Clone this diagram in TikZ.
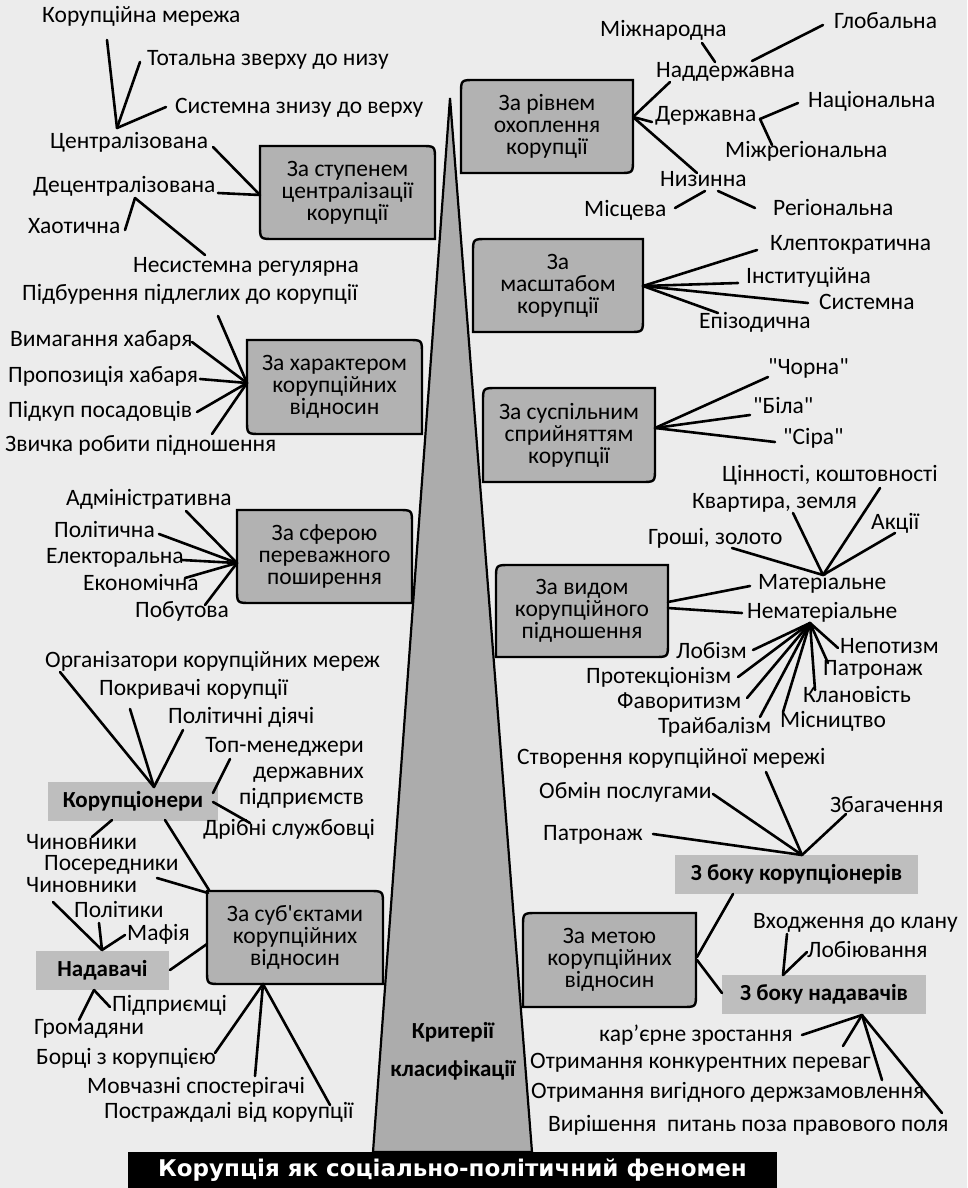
\documentclass[tikz,border=0pt]{standalone}
\usepackage{fontspec}
\setmainfont{Carlito}[Ligatures=TeXOff]
\newfontfamily\barfont{DejaVu Sans}
\definecolor{bg}{RGB}{236,236,236}
\definecolor{boxfill}{RGB}{178,178,178}
\definecolor{tagfill}{RGB}{190,190,190}
\definecolor{spikefill}{RGB}{172,172,172}
\newcommand{\lboxshape}[4]{\draw[boxline] (#1,#2) -- ({#3-14},#2) .. controls (#3,#2) .. (#3,{#2+14}) -- (#3,#4) -- ({#1+14},#4) .. controls (#1,#4) .. (#1,{#4-14}) -- cycle;}
\newcommand{\rboxshape}[4]{\draw[boxline] ({#1+14},#2) -- (#3,#2) -- (#3,{#4-14}) .. controls (#3,#4) .. ({#3-14},#4) -- (#1,#4) -- (#1,{#2+14}) .. controls (#1,#2) .. ({#1+14},#2) -- cycle;}
\begin{document}
\begin{tikzpicture}[x=1pt,y=-1pt,
  lbl/.style={inner sep=0pt, anchor=west, text height=15pt, text depth=4pt, font=\fontsize{23.5}{25}\selectfont},
  boxtxt/.style={inner sep=0pt, align=center, font=\fontsize{23.5}{22}\selectfont},
  boxline/.style={fill=boxfill, draw=black, line width=2.4pt},
  tag/.style={fill=tagfill, inner sep=0pt, font=\bfseries\fontsize{23}{25}\selectfont},
  cn/.style={line width=2.6pt, line cap=round}]
\useasboundingbox (0,0) rectangle (967,1188);
\fill[bg] (0,0) rectangle (967,1188);
% central spike
\draw[line width=2.2pt, fill=spikefill, line join=miter] (450,98) -- (532,1152) -- (373,1152) -- cycle;
\node[font=\bfseries\fontsize{23}{38}\selectfont, align=center, inner sep=0pt] (crit) at (453,1051) {Критерії\\класифікації};
% bottom bar
\node[fill=black, minimum width=649pt, minimum height=36pt, inner sep=0pt, text=white, font=\barfont\bfseries\fontsize{23}{25}\selectfont] (bar) at (452.5,1170) {Корупція як соціально-політичний феномен};

% boxes
\lboxshape{260}{146}{435}{239}
\node[boxtxt, minimum width=175pt, minimum height=93pt] (b1) at (347.5,192.5) {За ступенем\\централізації\\корупції};
\rboxshape{461}{80}{633}{173}
\node[boxtxt, minimum width=172pt, minimum height=93pt] (b2) at (547,126.5) {За рівнем\\охоплення\\корупції};
\rboxshape{473}{239}{643}{332}
\node[boxtxt, minimum width=170pt, minimum height=93pt] (b3) at (558,285.5) {За\\масштабом\\корупції};
\rboxshape{483}{388}{655}{482}
\node[boxtxt, minimum width=172pt, minimum height=94pt] (b4) at (569,435) {За суспільним\\сприйняттям\\корупції};
\rboxshape{496}{565}{668}{657}
\node[boxtxt, minimum width=172pt, minimum height=92pt] (b5) at (582,611) {За видом\\корупційного\\підношення};
\lboxshape{247}{340}{422}{434}
\node[boxtxt, minimum width=175pt, minimum height=94pt] (b6) at (334.5,387) {За характером\\корупційних\\відносин};
\lboxshape{237}{510}{412}{603}
\node[boxtxt, minimum width=175pt, minimum height=93pt] (b7) at (324.5,556.5) {За сферою\\переважного\\поширення};
\lboxshape{207}{891}{383}{984}
\node[boxtxt, minimum width=176pt, minimum height=93pt] (b8) at (295,937.5) {За суб'єктами\\корупційних\\відносин};
\rboxshape{523}{913}{696}{1007}
\node[boxtxt, minimum width=173pt, minimum height=94pt] (b9) at (609.5,960) {За метою\\корупційних\\відносин};

% gray tags
\node[tag, minimum width=170pt, minimum height=39pt] (g1) at (133,801.5) {Корупціонери};
\node[tag, minimum width=133pt, minimum height=39pt] (g2) at (102.5,970.5) {Надавачі};
\node[tag, minimum width=243pt, minimum height=39pt] (g3) at (796.5,874.5) {З боку корупціонерів};
\node[tag, minimum width=204pt, minimum height=39pt] (g4) at (824,994.5) {З боку надавачів};

% labels top-left
\node[lbl] (t1) at (42,17) {Корупційна мережа};
\node[lbl] (t2) at (147,60) {Тотальна зверху до низу};
\node[lbl] (t3) at (175,108) {Системна знизу до верху};
\node[lbl] (t4) at (50,143) {Централізована};
\node[lbl] (t5) at (33,187) {Децентралізована};
\node[lbl] (t6) at (28,228) {Хаотична};
\node[lbl] (t7) at (133,267) {Несистемна регулярна};
% labels top-right
\node[lbl] (r1) at (600,31) {Міжнародна};
\node[lbl] (r2) at (834,23) {Глобальна};
\node[lbl] (r3) at (656,72) {Наддержавна};
\node[lbl] (r4) at (808,102) {Національна};
\node[lbl] (r5) at (655,116) {Державна};
\node[lbl] (r6) at (725,152) {Міжрегіональна};
\node[lbl] (r7) at (660,181) {Низинна};
\node[lbl] (r8) at (584,211) {Місцева};
\node[lbl] (r9) at (773,210) {Регіональна};
\node[lbl] (r10) at (770,245) {Клептократична};
\node[lbl] (r11) at (746,278) {Інституційна};
\node[lbl] (r12) at (819,304) {Системна};
\node[lbl] (r13) at (699,323) {Епізодична};
\node[lbl] (r14) at (768,369) {"Чорна"};
\node[lbl] (r15) at (753,408) {"Біла"};
\node[lbl] (r16) at (783,439) {"Сіра"};
\node[lbl] (r17) at (722,476) {Цінності, коштовності};
\node[lbl] (r18) at (692,503) {Квартира, земля};
\node[lbl] (r19) at (871,524) {Акції};
\node[lbl] (r20) at (648,539) {Гроші, золото};
\node[lbl] (r21) at (758,584) {Матеріальне};
\node[lbl] (r22) at (747,613) {Нематеріальне};
\node[lbl] (r23) at (676,653) {Лобізм};
\node[lbl] (r24) at (586,678) {Протекціонізм};
\node[lbl] (r25) at (617,703) {Фаворитизм};
\node[lbl] (r26) at (658,728) {Трайбалізм};
\node[lbl] (r27) at (780,722) {Місництво};
\node[lbl] (r28) at (803,697) {Клановість};
\node[lbl] (r29) at (823,670) {Патронаж};
\node[lbl] (r30) at (840,648) {Непотизм};
% labels left middle
\node[lbl] (l1) at (22,295) {Підбурення підлеглих до корупції};
\node[lbl] (l2) at (10,341) {Вимагання хабаря};
\node[lbl] (l3) at (8,377) {Пропозиція хабаря};
\node[lbl] (l4) at (8,412) {Підкуп посадовців};
\node[lbl] (l5) at (5,446) {Звичка робити підношення};
\node[lbl] (l6) at (66,500) {Адміністративна};
\node[lbl] (l7) at (54,532) {Політична};
\node[lbl] (l8) at (46,558) {Електоральна};
\node[lbl] (l9) at (83,585) {Економічна};
\node[lbl] (l10) at (135,612) {Побутова};
% labels left lower
\node[lbl] (l11) at (45,662) {Організатори корупційних мереж};
\node[lbl] (l12) at (99,690) {Покривачі корупції};
\node[lbl] (l13) at (168,718) {Політичні діячі};
\node[inner sep=0pt, anchor=east, align=right, font=\fontsize{23.5}{26}\selectfont] (l14) at (364,773) {Топ-менеджери\\державних\\підприємств};
\node[lbl] (l15) at (203,830) {Дрібні службовці};
\node[lbl] (l16) at (26,844) {Чиновники};
\node[lbl] (l17) at (44,865) {Посередники};
\node[lbl] (l18) at (26,887) {Чиновники};
\node[lbl] (l19) at (74,912) {Політики};
\node[lbl] (l20) at (127,935) {Мафія};
\node[lbl] (l21) at (112,1006) {Підприємці};
\node[lbl] (l22) at (34,1029) {Громадяни};
\node[lbl] (l23) at (36,1059) {Борці з корупцією};
\node[lbl] (l24) at (87,1088) {Мовчазні спостерігачі};
\node[lbl] (l25) at (104,1113) {Постраждалі від корупції};
% labels right lower
\node[lbl] (r31) at (517,759) {Створення корупційної мережі};
\node[lbl] (r32) at (539,793) {Обмін послугами};
\node[lbl] (r33) at (830,807) {Збагачення};
\node[lbl] (r34) at (543,835) {Патронаж};
\node[lbl] (r35) at (753,923) {Входження до клану};
\node[lbl] (r36) at (807,952) {Лобіювання};
\node[lbl] (r37) at (599,1036) {кар’єрне зростання};
\node[lbl] (r38) at (530,1063) {Отримання конкурентних переваг};
\node[lbl] (r39) at (531,1093) {Отримання вигідного держзамовлення};
\node[lbl] (r40) at (548,1126) {Вирішення~~питань поза правового поля};

% junctions
\coordinate (j1) at (117,128);
\coordinate (b1l) at (260,195);
\coordinate (j2) at (135,198);
\coordinate (b2r) at (633,117);
\coordinate (j3) at (760,119);
\coordinate (b3r) at (643,286);
\coordinate (b4r) at (655,428);
\coordinate (j5) at (823,575);
\coordinate (j6) at (810,623);
\coordinate (b6l) at (247,383);
\coordinate (b7l) at (237,563);
\coordinate (j7) at (154,787);
\coordinate (j8) at (102,950);
\coordinate (j9) at (94,990);
\coordinate (b8b) at (263,984);
\coordinate (j10) at (802,855);
\coordinate (j11) at (783,975);
\coordinate (j12) at (862,1015);

% connectors
\draw[cn] (j1) -- (107,40);
\draw[cn] (j1) -- (140,62);
\draw[cn] (j1) -- (166,107);
\draw[cn] (b1l) -- (213,147);
\draw[cn] (b1l) -- (218,193);
\draw[cn] (j2) -- (125,230);
\draw[cn] (j2) -- (205,255);

\draw[cn] (702,43) -- (715,62);
\draw[cn] (752,61) -- (823,25);
\draw[cn] (b2r) -- (670,82);
\draw[cn] (b2r) -- (652,122);
\draw[cn] (b2r) -- (697,173);
\draw[cn] (j3) -- (798,103);
\draw[cn] (j3) -- (772,145);
\draw[cn] (705,191) -- (675,208);
\draw[cn] (718,191) -- (755,208);

\draw[cn] (b3r) -- (757,250);
\draw[cn] (b3r) -- (738,283);
\draw[cn] (b3r) -- (808,303);
\draw[cn] (b3r) -- (718,313);

\draw[cn] (b4r) -- (768,377);
\draw[cn] (b4r) -- (750,415);
\draw[cn] (b4r) -- (775,442);

\draw[cn] (j5) -- (880,488);
\draw[cn] (j5) -- (793,513);
\draw[cn] (j5) -- (895,533);
\draw[cn] (j5) -- (732,548);
\draw[cn] (668,602) -- (750,586);
\draw[cn] (668,608) -- (742,613);
\draw[cn] (j6) -- (753,650);
\draw[cn] (j6) -- (738,677);
\draw[cn] (j6) -- (747,698);
\draw[cn] (j6) -- (760,717);
\draw[cn] (j6) -- (783,712);
\draw[cn] (j6) -- (815,690);
\draw[cn] (j6) -- (828,663);
\draw[cn] (j6) -- (838,648);

\draw[cn] (b6l) -- (218,316);
\draw[cn] (b6l) -- (192,342);
\draw[cn] (b6l) -- (200,379);
\draw[cn] (b6l) -- (197,412);
\draw[cn] (b6l) -- (212,434);

\draw[cn] (b7l) -- (186,511);
\draw[cn] (b7l) -- (159,534);
\draw[cn] (b7l) -- (182,560);
\draw[cn] (b7l) -- (185,578);
\draw[cn] (b7l) -- (205,605);

\draw[cn] (j7) -- (60,672);
\draw[cn] (j7) -- (130,709);
\draw[cn] (j7) -- (183,730);
\draw[cn] (213,793) -- (230,759);
\draw[cn] (213,802) -- (250,823);
\draw[cn] (112,820) -- (92,837);
\draw[cn] (165,820) -- (209,890);
\draw[cn] (157,878) -- (208,893);
\draw[cn] (j8) -- (53,902);
\draw[cn] (j8) -- (99,923);
\draw[cn] (j8) -- (125,935);
\draw[cn] (170,970) -- (207,944);
\draw[cn] (j9) -- (79,1020);
\draw[cn] (j9) -- (110,1007);
\draw[cn] (b8b) -- (215,1053);
\draw[cn] (b8b) -- (255,1076);
\draw[cn] (b8b) -- (330,1105);

\draw[cn] (j10) -- (766,772);
\draw[cn] (j10) -- (713,794);
\draw[cn] (j10) -- (653,834);
\draw[cn] (j10) -- (846,814);
\draw[cn] (697,957) -- (733,894);
\draw[cn] (697,960) -- (722,993);
\draw[cn] (j11) -- (787,934);
\draw[cn] (j11) -- (807,952);
\draw[cn] (j12) -- (802,1035);
\draw[cn] (j12) -- (843,1046);
\draw[cn] (j12) -- (882,1080);
\draw[cn] (j12) -- (942,1113);
\end{tikzpicture}
\end{document}
